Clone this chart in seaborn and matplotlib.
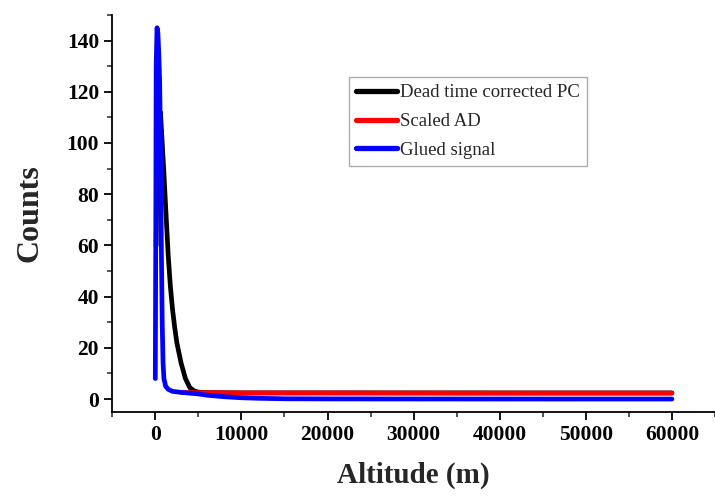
import matplotlib as mpl
mpl.use("Agg")
import matplotlib.pyplot as plt
import seaborn as sns
import pandas as pd
from matplotlib.ticker import MultipleLocator

# values (altitude in m, counts)
pc_alt = [100, 200, 400, 600, 800, 1000, 1200, 1500, 1750, 2000, 2250, 2500,
          3000, 3500, 4000, 4500, 5000, 6000, 10000, 20000, 40000, 60000]
pc_cnt = [60, 95, 112, 112, 100, 88, 75, 56, 44, 35, 28, 22,
          14, 8, 4.5, 3.2, 2.7, 2.5, 2.4, 2.4, 2.4, 2.4]

ad_alt = [3000, 5000, 10000, 20000, 30000, 40000, 50000, 60000]
ad_cnt = [2.6, 2.5, 2.4, 2.4, 2.35, 2.3, 2.3, 2.3]

glued_alt = [0, 50, 100, 200, 300, 400, 500, 600, 700, 800, 900, 1000,
             1200, 1500, 2000, 3000, 4000, 5000, 6000, 8000, 10000, 12000,
             15000, 20000, 30000, 40000, 50000, 60000]
glued_cnt = [8, 60, 130, 145, 143, 135, 125, 100, 60, 30, 14, 8,
             5, 3.8, 3.0, 2.6, 2.3, 2.0, 1.5, 0.9, 0.5, 0.3,
             0.1, 0.05, 0.02, 0.01, 0.0, 0.0]

series = [("Dead time corrected PC", pc_alt, pc_cnt, "black"),
          ("Scaled AD", ad_alt, ad_cnt, "#ff0000"),
          ("Glued signal", glued_alt, glued_cnt, "#0000ff")]

sns.set_style("ticks")
plt.rcParams["font.family"] = ["Liberation Serif", "DejaVu Serif"]

fig = plt.figure(figsize=(7.15, 4.98), dpi=100)
ax = fig.add_axes([0.157, 0.173, 0.843, 0.797])

for name, x, y, col in series:
    df = pd.DataFrame({"alt": x, "cnt": y})
    sns.lineplot(data=df, x="alt", y="cnt", ax=ax, color=col, lw=3.4,
                 label=name, sort=False, solid_capstyle="round")

ax.set_xlim(-5000, 65000)
ax.set_ylim(-5, 150)
ax.xaxis.set_major_locator(MultipleLocator(10000))
ax.xaxis.set_minor_locator(MultipleLocator(5000))
ax.yaxis.set_major_locator(MultipleLocator(20))
ax.yaxis.set_minor_locator(MultipleLocator(10))
ax.tick_params(which="major", direction="out", length=6, width=1.3,
               labelsize=15.5, colors="black")
ax.tick_params(which="minor", direction="out", length=3.5, width=1.1)
for lab in ax.get_xticklabels() + ax.get_yticklabels():
    lab.set_fontweight("bold")
for s in ["left", "bottom"]:
    ax.spines[s].set_linewidth(1.3)
    ax.spines[s].set_color("black")
ax.spines[["top", "right"]].set_visible(False)

ax.set_xlabel("Altitude (m)", fontsize=21, fontweight="bold", labelpad=12)
ax.set_ylabel("Counts", fontsize=23, fontweight="bold", labelpad=16)

leg = ax.legend(loc="upper left", bbox_to_anchor=(0.392, 0.844), fontsize=13.5,
                frameon=True, fancybox=False, handlelength=2.2,
                handletextpad=0.15, borderpad=0.4, labelspacing=0.62,
                borderaxespad=0)
leg.get_frame().set_edgecolor("#999999")
leg.get_frame().set_linewidth(1.0)
for h in leg.get_lines():
    h.set_linewidth(3.8)

fig.savefig("out.png", dpi=100)
